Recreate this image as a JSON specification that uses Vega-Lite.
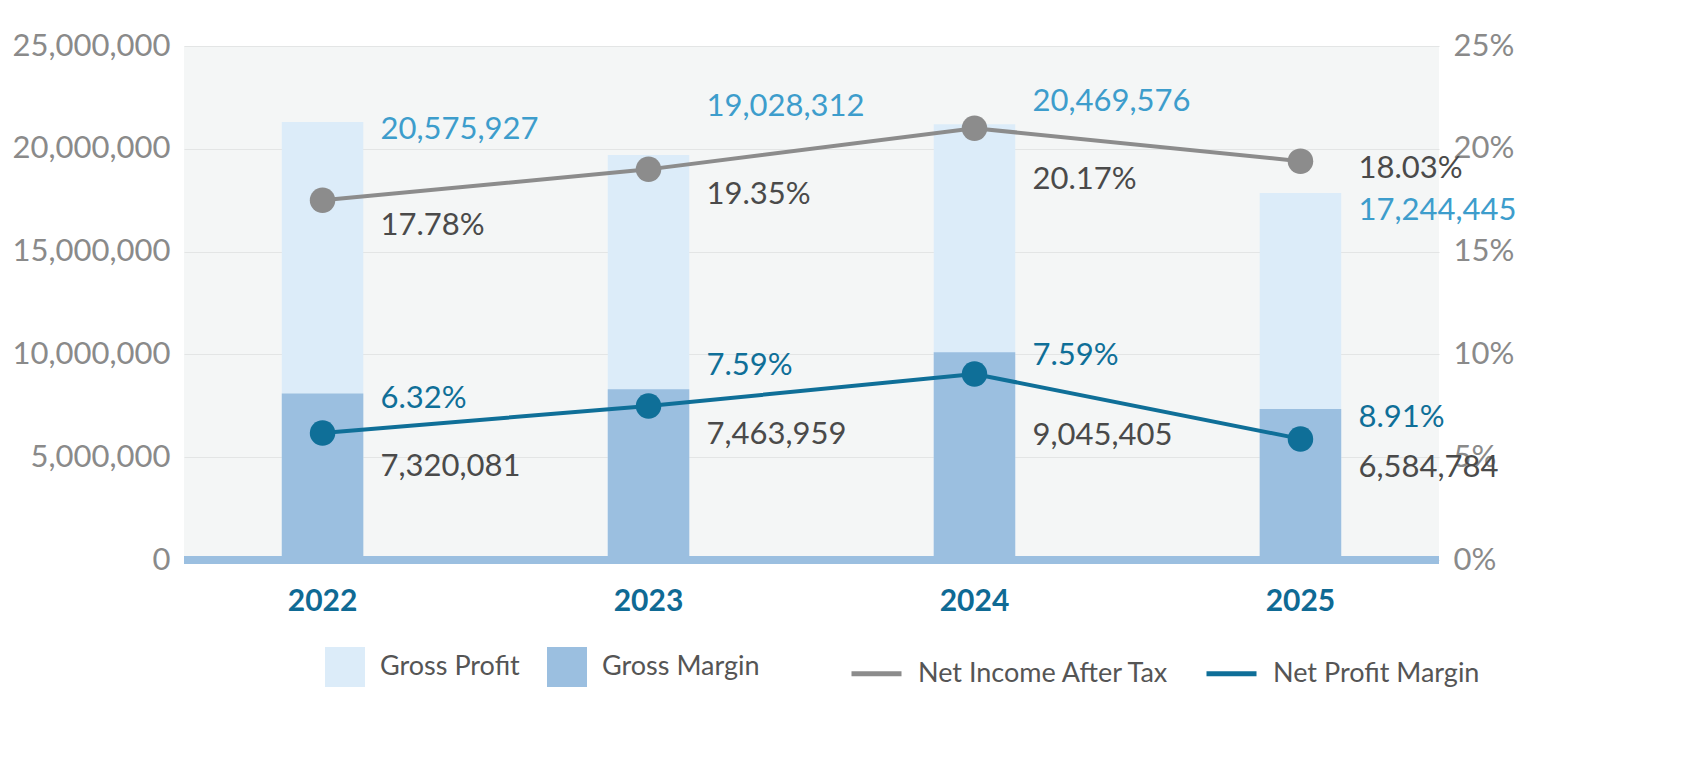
{
  "$schema": "https://vega.github.io/schema/vega-lite/v6.json",
  "width": 1255,
  "height": 514,
  "background": "#ffffff",
  "padding": {"left": 12, "top": 30, "right": 10, "bottom": 5},
  "config": {
    "font": "Lato",
    "view": {"fill": "#f4f6f6", "stroke": null},
    "axis": {"domain": false, "ticks": false, "labelFontSize": 31, "labelColor": "#8a8a8a", "title": null, "labelPadding": 14},
    "legend": {"labelFontSize": 27, "labelColor": "#555555", "title": null, "orient": "none", "direction": "horizontal", "symbolSize": 1600, "columnPadding": 26, "labelOffset": 14, "labelLimit": 400}
  },
  "data": {
    "values": [
      {"year": "2022", "gp": 21300000, "gm": 8100000, "ni": 17.5, "npm": 6.18, "gpLabel": "20,575,927", "gmLabel": "7,320,081", "niLabel": "17.78%", "npmLabel": "6.32%"},
      {"year": "2023", "gp": 19700000, "gm": 8300000, "ni": 19.0, "npm": 7.49, "gpLabel": "19,028,312", "gmLabel": "7,463,959", "niLabel": "19.35%", "npmLabel": "7.59%"},
      {"year": "2024", "gp": 21200000, "gm": 10100000, "ni": 21.0, "npm": 9.05, "gpLabel": "20,469,576", "gmLabel": "9,045,405", "niLabel": "20.17%", "npmLabel": "7.59%"},
      {"year": "2025", "gp": 17850000, "gm": 7350000, "ni": 19.4, "npm": 5.89, "gpLabel": "17,244,445", "gmLabel": "6,584,784", "niLabel": "18.03%", "npmLabel": "8.91%"}
    ]
  },
  "encoding": {
    "x": {
      "field": "year", "type": "nominal",
      "scale": {"paddingInner": 0.75, "paddingOuter": 0.3},
      "axis": {"labelColor": "#0f6a94", "labelFontWeight": "bold", "labelFontSize": 30, "labelAngle": 0, "labelPadding": 26}
    }
  },
  "layer": [
    {
      "encoding": {
        "y": {"type": "quantitative", "scale": {"domain": [0, 25000000]},
          "axis": {"tickCount": 5, "format": ",d", "gridColor": "#e3e5e5"}}
      },
      "layer": [
        {"mark": {"type": "bar"}, "encoding": {"y": {"field": "gp"}, "fill": {"datum": "Gross Profit", "scale": {"domain": ["Gross Profit", "Gross Margin"], "range": ["#dcecf9", "#9bbfe0"]}, "legend": {"symbolType": "square", "legendX": 140, "legendY": 600}}}},
        {"mark": {"type": "bar"}, "encoding": {"y": {"field": "gm"}, "fill": {"datum": "Gross Margin"}}},
        {"mark": {"type": "rule", "strokeWidth": 8, "color": "#9bbfe0"}, "encoding": {"y": {"datum": 0}, "x": {"value": 0}, "x2": {"value": 1255}}},
        {"mark": {"type": "text", "align": "left", "baseline": "middle", "dx": 58, "dy": {"expr": "datum.year == '2023' ? -48 : datum.year == '2024' ? -22 : datum.year == '2025' ? 18 : 8"}, "fontSize": 31, "color": "#3d9dcc"}, "encoding": {"y": {"field": "gp"}, "text": {"field": "gpLabel"}}}
      ]
    },
    {
      "encoding": {
        "y": {"type": "quantitative", "scale": {"domain": [0, 25]},
          "axis": {"orient": "right", "tickCount": 5, "labelExpr": "datum.value + '%'", "grid": false}}
      },
      "layer": [
        {"mark": {"type": "line", "strokeWidth": 4}, "encoding": {"y": {"field": "ni"}, "stroke": {"datum": "Net Income After Tax", "scale": {"domain": ["Net Income After Tax", "Net Profit Margin"], "range": ["#8c8c8c", "#0f6f98"]}, "legend": {"symbolType": "stroke", "symbolStrokeWidth": 5, "symbolSize": 2500, "legendX": 665, "legendY": 600}}}},
        {"mark": {"type": "line", "strokeWidth": 4}, "encoding": {"y": {"field": "npm"}, "stroke": {"datum": "Net Profit Margin"}}},
        {"mark": {"type": "point", "filled": true, "size": 650, "opacity": 1, "color": "#8c8c8c"}, "encoding": {"y": {"field": "ni"}}},
        {"mark": {"type": "point", "filled": true, "size": 650, "opacity": 1, "color": "#0f6f98"}, "encoding": {"y": {"field": "npm"}}},
        {"mark": {"type": "text", "align": "left", "baseline": "middle", "dx": 58, "dy": {"expr": "datum.year == '2024' ? 52 : datum.year == '2025' ? 8 : 26"}, "fontSize": 31, "color": "#4a4a4a"}, "encoding": {"y": {"field": "ni"}, "text": {"field": "niLabel"}}},
        {"mark": {"type": "text", "align": "left", "baseline": "middle", "dx": 58, "dy": {"expr": "datum.year == '2023' ? -40 : datum.year == '2024' ? -18 : datum.year == '2025' ? -21 : -34"}, "fontSize": 31, "color": "#0f6f98"}, "encoding": {"y": {"field": "npm"}, "text": {"field": "npmLabel"}}},
        {"mark": {"type": "text", "align": "left", "baseline": "middle", "dx": 58, "dy": {"expr": "datum.year == '2024' ? 62 : datum.year == '2022' ? 34 : 29"}, "fontSize": 31, "color": "#4a4a4a"}, "encoding": {"y": {"field": "npm"}, "text": {"field": "gmLabel"}}}
      ]
    }
  ],
  "resolve": {"scale": {"y": "independent"}}
}
